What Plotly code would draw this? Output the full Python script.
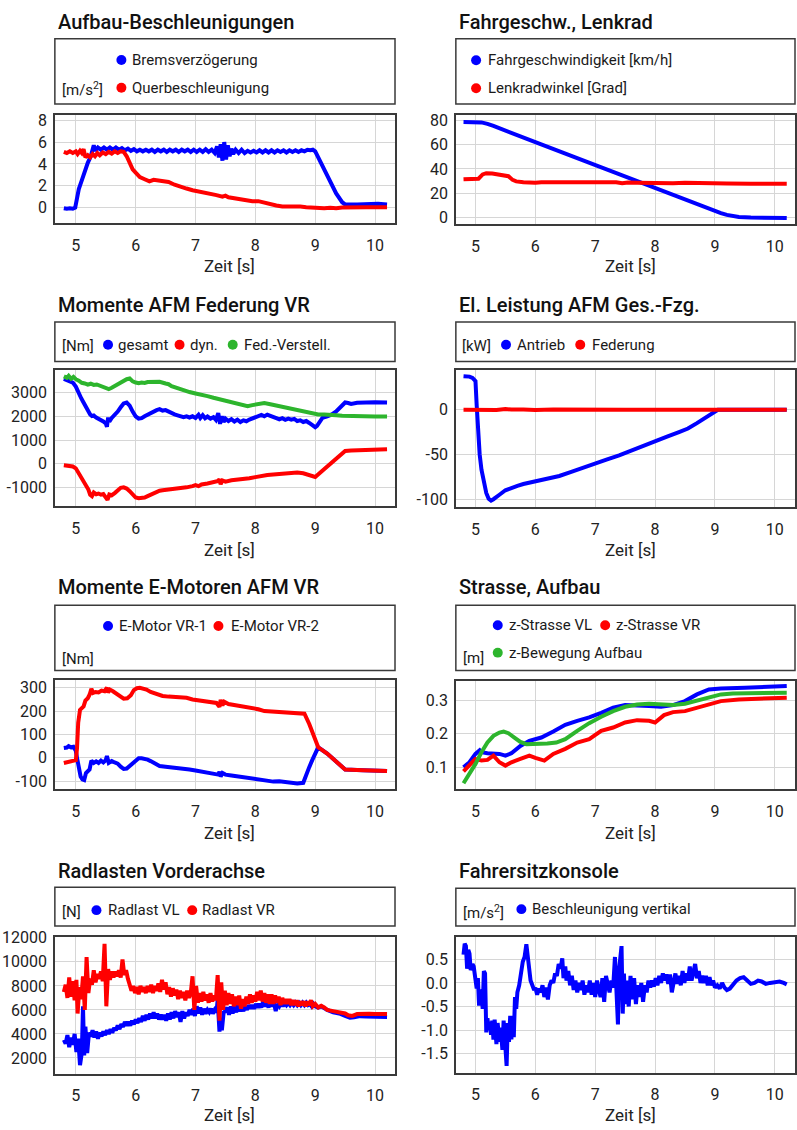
import plotly.graph_objects as go

W, H = 797, 1130
BLUE = "#0000ff"
RED = "#ff0000"
GREEN = "#2db52d"
FONT = "Roboto"
FRAME = "#3a3a3a"
GRID = "#d6d6d6"

# ---------------- Aufbau-Beschleunigungen ----------------
t_brems = [4.80, 4.85, 4.90, 4.95, 4.99, 5.02, 5.05, 5.10, 5.15, 5.20, 5.25, 5.28, 5.30, 5.33, 5.37,
           5.42, 5.47, 5.52, 5.57, 5.62, 5.67, 5.72, 5.77, 5.82, 5.87, 5.92, 5.97, 6.02, 6.07, 6.12,
           6.17, 6.22, 6.27, 6.32, 6.37, 6.42, 6.47, 6.52, 6.57, 6.62, 6.67, 6.72, 6.77, 6.82, 6.87,
           6.92, 6.97, 7.02, 7.07, 7.12, 7.17, 7.22, 7.27, 7.32, 7.36, 7.39, 7.42, 7.45, 7.48, 7.51,
           7.54, 7.57, 7.60, 7.63, 7.67, 7.72, 7.77, 7.82, 7.87, 7.92, 7.97, 8.02, 8.07, 8.12, 8.17,
           8.22, 8.27, 8.32, 8.37, 8.42, 8.47, 8.52, 8.57, 8.62, 8.67, 8.72, 8.77, 8.82, 8.87, 8.92,
           8.96, 9.00, 9.05, 9.15, 9.25, 9.35, 9.45, 9.50, 9.70, 9.90, 10.05, 10.20]
v_brems = [-0.05, -0.1, -0.05, -0.1, 0.0, 1.0, 1.7, 2.5, 3.4, 4.1, 4.7, 5.4, 5.7, 5.2, 5.5,
           5.3, 5.5, 5.3, 5.5, 5.3, 5.5, 5.3, 5.45, 5.25, 5.4, 5.2, 5.35, 5.15, 5.3, 5.15,
           5.3, 5.15, 5.3, 5.1, 5.3, 5.15, 5.3, 5.1, 5.3, 5.15, 5.3, 5.1, 5.3, 5.15, 5.3,
           5.1, 5.3, 5.1, 5.3, 5.1, 5.35, 5.1, 5.3, 5.0, 5.6, 4.6, 5.8, 4.3, 6.0, 4.4,
           5.7, 4.7, 5.4, 4.9, 5.3, 5.0, 5.3, 5.0, 5.2, 5.05, 5.2, 5.05, 5.25, 5.05, 5.25,
           5.05, 5.25, 5.05, 5.25, 5.1, 5.25, 5.05, 5.25, 5.1, 5.25, 5.1, 5.25, 5.15, 5.3, 5.25,
           5.3, 5.15, 4.6, 3.4, 2.3, 1.3, 0.5, 0.3, 0.3, 0.35, 0.35, 0.3]
t_quer = [4.80, 4.85, 4.90, 4.95, 5.00, 5.03, 5.07, 5.10, 5.13, 5.16, 5.20, 5.24, 5.28, 5.32, 5.36,
          5.40, 5.45, 5.50, 5.55, 5.60, 5.65, 5.70, 5.75, 5.80, 5.85, 5.90, 5.95, 6.00, 6.07, 6.15,
          6.23, 6.30, 6.38, 6.45, 6.55, 6.65, 6.75, 6.85, 6.95, 7.05, 7.15, 7.25, 7.35, 7.45, 7.50,
          7.55, 7.65, 7.75, 7.85, 7.95, 8.05, 8.15, 8.25, 8.35, 8.45, 8.55, 8.65, 8.75, 8.85, 8.95,
          9.05, 9.15, 9.25, 9.35, 9.45, 9.55, 9.70, 9.85, 10.0, 10.2]
v_quer = [5.1, 5.0, 5.15, 5.0, 5.15, 4.9, 5.2, 5.0, 5.35, 4.6, 4.8, 4.6, 4.9, 4.7, 5.0,
          4.8, 5.05, 4.9, 5.1, 4.95, 5.15, 5.0, 5.15, 5.1, 4.7, 4.1, 3.5, 3.2, 2.8, 2.6,
          2.4, 2.55, 2.5, 2.4, 2.35, 2.1, 1.9, 1.75, 1.6, 1.5, 1.35, 1.25, 1.15, 1.0, 1.1,
          0.95, 0.85, 0.75, 0.7, 0.6, 0.6, 0.45, 0.3, 0.2, 0.1, 0.12, 0.08, 0.1, 0.05, 0.0,
          -0.02, -0.05, 0.0, -0.05, 0.02, 0.05, 0.05, 0.05, 0.05, 0.05]

# ---------------- Fahrgeschw., Lenkrad ----------------
t_speed = [4.80, 5.00, 5.10, 5.20, 5.30, 6.00, 7.00, 8.00, 8.60, 8.90, 9.00, 9.10, 9.20, 9.30, 9.40, 9.60, 10.20]
v_speed = [78.5, 78.5, 78.2, 77.0, 75.3, 62.0, 43.0, 24.2, 13.0, 7.6, 5.6, 3.8, 2.3, 1.2, 0.5, 0.1, -0.3]
t_lenk = [4.80, 4.90, 5.00, 5.05, 5.12, 5.18, 5.28, 5.38, 5.48, 5.55, 5.62, 5.68, 5.80, 5.92, 6.00,
          6.10, 6.30, 6.50, 6.70, 6.90, 7.05, 7.20, 7.35, 7.45, 7.55, 7.70, 7.90, 8.10, 8.30, 8.50,
          8.70, 8.90, 9.20, 9.60, 10.20]
v_lenk = [31.5, 31.5, 31.7, 32.0, 35.5, 36.5, 36.2, 35.3, 34.8, 34.0, 31.0, 29.8, 29.0, 28.3, 28.6,
          29.0, 29.1, 29.3, 29.1, 29.2, 28.8, 29.2, 29.0, 28.2, 28.8, 28.6, 28.3, 27.8, 28.3, 28.6,
          28.3, 28.1, 28.0, 27.9, 27.9]

# ---------------- Momente AFM Federung VR ----------------
t_ges = [4.80, 4.85, 4.90, 4.95, 5.00, 5.03, 5.06, 5.09, 5.12, 5.15, 5.18, 5.21, 5.24, 5.27, 5.30,
         5.34, 5.38, 5.42, 5.46, 5.50, 5.52, 5.54, 5.56, 5.60, 5.65, 5.70, 5.75, 5.80, 5.85, 5.90,
         5.95, 6.00, 6.05, 6.10, 6.15, 6.20, 6.25, 6.30, 6.35, 6.40, 6.45, 6.50, 6.55, 6.60, 6.65,
         6.70, 6.75, 6.80, 6.85, 6.90, 6.95, 7.00, 7.05, 7.08, 7.12, 7.16, 7.20, 7.25, 7.30, 7.34,
         7.38, 7.41, 7.44, 7.47, 7.50, 7.55, 7.60, 7.65, 7.70, 7.75, 7.80, 7.85, 7.90, 7.95, 8.00,
         8.05, 8.10, 8.15, 8.20, 8.25, 8.30, 8.35, 8.40, 8.45, 8.50, 8.55, 8.60, 8.65, 8.70, 8.75,
         8.80, 8.85, 8.90, 8.95, 9.00, 9.03, 9.07, 9.12, 9.20, 9.27, 9.35, 9.42, 9.50, 9.55, 9.60,
         9.70, 9.80, 9.90, 10.0, 10.2]
v_ges = [3570, 3520, 3480, 3420, 3250, 3050, 2900, 2760, 2620, 2480, 2350, 2200, 2080, 2010, 2030,
         1950, 1900, 1860, 1780, 1700, 1560, 1950, 1780, 1930, 2040, 2200, 2380, 2540, 2580, 2450,
         2200, 2000, 1900, 1920, 2000, 2070, 2130, 2190, 2260, 2300, 2240, 2260, 2190, 2120, 2080,
         2040, 2000, 1960, 2000, 1950, 2000, 1930, 2060, 1930, 2050, 1920, 1990, 1900, 1960, 1850,
         2130, 1680, 2000, 1760, 1900, 1800, 1880, 1780, 1860, 1760, 1830, 1790, 1860, 1900, 1960,
         2020, 2060, 2000, 2070, 2020, 1950, 1920, 1870, 1920, 1850, 1900, 1860, 1890, 1800, 1830,
         1760, 1800, 1720, 1650, 1540, 1600, 1720, 1930, 2000, 2070, 2200, 2380, 2580, 2560, 2520,
         2570, 2590, 2580, 2590, 2580]
t_dyn = [4.80, 4.85, 4.90, 4.95, 5.00, 5.03, 5.06, 5.10, 5.14, 5.18, 5.21, 5.24, 5.27, 5.30, 5.34,
         5.38, 5.42, 5.46, 5.50, 5.53, 5.56, 5.60, 5.65, 5.70, 5.75, 5.80, 5.85, 5.90, 5.95, 6.00,
         6.05, 6.10, 6.15, 6.20, 6.25, 6.30, 6.35, 6.40, 6.45, 6.55, 6.65, 6.75, 6.85, 6.95, 7.00,
         7.05, 7.10, 7.20, 7.30, 7.38, 7.40, 7.42, 7.45, 7.50, 7.60, 7.70, 7.80, 7.90, 8.00, 8.10,
         8.20, 8.30, 8.40, 8.50, 8.60, 8.70, 8.80, 8.90, 9.00, 9.10, 9.20, 9.30, 9.40, 9.50, 9.60,
         9.80, 10.0, 10.2]
v_dyn = [-60, -80, -100, -110, -190, -320, -450, -600, -760, -940, -1080, -1300, -1360, -1210, -1280,
         -1250, -1300, -1270, -1380, -1520, -1290, -1320, -1230, -1130, -1010, -990, -1040, -1150, -1300, -1420,
         -1450, -1450, -1420, -1360, -1300, -1250, -1180, -1130, -1110, -1090, -1060, -1030, -990, -940, -900,
         -940, -870, -830, -780, -720, -650, -860, -700, -750, -690, -670, -640, -610, -560, -500,
         -470, -450, -430, -400, -380, -370, -400, -460, -550, -330, -120, 100, 320, 540, 560,
         590, 600, 610]
t_fed = [4.80, 4.85, 4.88, 4.92, 4.96, 5.00, 5.05, 5.10, 5.15, 5.20, 5.25, 5.30, 5.35, 5.40, 5.45,
         5.50, 5.55, 5.60, 5.65, 5.70, 5.75, 5.80, 5.85, 5.90, 5.95, 6.00, 6.05, 6.10, 6.15, 6.20,
         6.30, 6.40, 6.50, 6.55, 6.60, 6.70, 6.80, 6.90, 7.00, 7.10, 7.20, 7.30, 7.40, 7.50, 7.60,
         7.70, 7.80, 7.87, 7.95, 8.05, 8.15, 8.25, 8.35, 8.45, 8.55, 8.65, 8.75, 8.85, 8.95, 9.05,
         9.15, 9.25, 9.35, 9.45, 9.55, 9.65, 9.80, 10.0, 10.2]
v_fed = [3680, 3620, 3700, 3580, 3660, 3560, 3500, 3410, 3380, 3330, 3370, 3320, 3340, 3290, 3240,
         3180, 3140, 3200, 3280, 3360, 3440, 3510, 3560, 3590, 3470, 3420, 3390, 3420, 3400, 3440,
         3430, 3450, 3380, 3350, 3270, 3180, 3090, 3020, 2960, 2920, 2850, 2780, 2720, 2660, 2600,
         2540, 2470, 2420, 2470, 2500, 2560, 2510, 2460, 2390, 2320, 2280, 2230, 2180, 2120, 2080,
         2080, 2040, 2040, 2020, 2010, 1990, 2010, 1990, 1990]

# ---------------- El. Leistung AFM Ges.-Fzg. ----------------
t_antrieb = [4.80, 4.90, 4.95, 5.00, 5.02, 5.04, 5.07, 5.10, 5.14, 5.18, 5.22, 5.26, 5.30, 5.35, 5.40,
             5.50, 5.60, 5.70, 5.80, 5.90, 6.00, 6.20, 6.40, 6.60, 6.80, 7.00, 7.20, 7.40, 7.60, 7.80,
             8.00, 8.20, 8.40, 8.55, 8.70, 8.85, 9.00, 9.05, 10.2]
v_antrieb = [37.5, 37.0, 35.5, 32.0, 5.0, -25.0, -50.0, -67.0, -82.0, -93.0, -99.5, -101.5, -100.0, -98.0, -95.0,
             -90.0, -87.0, -85.0, -83.0, -81.5, -80.5, -77.5, -74.0, -69.5, -64.5, -60.0, -55.5, -51.0, -45.5, -40.0,
             -35.0, -30.0, -25.0, -21.0, -15.0, -9.0, -3.0, 0.0, 0.0]
t_federung = [4.80, 5.00, 5.20, 5.35, 5.50, 5.60, 5.80, 6.00, 6.30, 6.60, 7.00, 7.50, 8.00, 8.50, 9.00, 10.2]
v_federung = [0.0, -0.3, -0.8, -0.3, 0.8, 0.2, 0.3, -0.2, 0.2, -0.1, 0.1, 0.0, 0.1, 0.0, 0.0, 0.0]

# ---------------- Momente E-Motoren AFM VR ----------------
t_em1 = [4.80, 4.85, 4.88, 4.92, 4.96, 5.00, 5.02, 5.05, 5.08, 5.11, 5.14, 5.17, 5.20, 5.23, 5.26,
         5.30, 5.34, 5.38, 5.42, 5.46, 5.50, 5.52, 5.55, 5.60, 5.65, 5.70, 5.75, 5.80, 5.85, 5.90,
         5.95, 6.00, 6.05, 6.10, 6.15, 6.20, 6.25, 6.30, 6.35, 6.40, 6.50, 6.60, 6.70, 6.80, 6.90,
         7.00, 7.10, 7.20, 7.30, 7.38, 7.40, 7.42, 7.45, 7.50, 7.60, 7.70, 7.80, 7.90, 8.00, 8.10,
         8.20, 8.30, 8.40, 8.50, 8.60, 8.70, 8.80, 8.85, 8.90, 8.95, 9.00, 9.05, 9.20, 9.35, 9.50,
         9.80, 10.2]
v_em1 = [42, 44, 50, 45, 47, 30, 0, -50, -80, -92, -95, -65, -58, -50, -12,
         -22, -15, -22, -12, -20, -10, 8, -22, -14, -20, -25, -38, -48, -46, -35,
         -22, -8, -2, -2, -4, -8, -14, -22, -28, -35, -38, -40, -42, -44, -50,
         -54, -58, -62, -66, -72, -60, -80, -65, -72, -76, -80, -84, -88, -92, -97,
         -101, -102, -100, -104, -105, -110, -107, -70, -40, -10, 18, 45, 18, -15, -50,
         -53, -57]
t_em2 = [4.80, 4.85, 4.90, 4.95, 5.00, 5.02, 5.04, 5.07, 5.10, 5.13, 5.16, 5.20, 5.23, 5.26, 5.29,
         5.33, 5.38, 5.43, 5.48, 5.52, 5.54, 5.57, 5.62, 5.68, 5.74, 5.80, 5.86, 5.92, 5.97, 6.02,
         6.07, 6.12, 6.18, 6.25, 6.32, 6.40, 6.45, 6.55, 6.65, 6.75, 6.85, 6.95, 7.05, 7.15, 7.25,
         7.35, 7.40, 7.42, 7.45, 7.48, 7.55, 7.65, 7.75, 7.85, 7.95, 8.05, 8.15, 8.25, 8.35, 8.45,
         8.55, 8.65, 8.75, 8.82, 8.90, 9.00, 9.05, 9.20, 9.35, 9.50, 9.80, 10.2]
v_em2 = [-22, -20, -18, -15, -10, 40, 150, 205, 215, 220, 245, 255, 270, 295, 278,
         282, 280, 288, 285, 300, 280, 292, 285, 275, 262, 253, 255, 268, 290, 298,
         300, 298, 292, 282, 275, 268, 265, 262, 261, 258, 257, 250, 247, 242, 240,
         235, 218, 248, 225, 240, 230, 226, 222, 220, 213, 208, 200, 198, 196, 195,
         194, 191, 190, 189, 145, 80, 45, 18, -15, -50, -53, -57]

# ---------------- Strasse, Aufbau ----------------
t_svl = [4.80, 4.90, 5.00, 5.07, 5.10, 5.20, 5.40, 5.50, 5.60, 5.75, 5.90, 6.10, 6.30, 6.50, 6.70,
         6.90, 7.10, 7.30, 7.50, 7.70, 7.90, 8.10, 8.30, 8.50, 8.70, 8.90, 9.10, 9.50, 10.2]
v_svl = [0.100, 0.115, 0.140, 0.151, 0.145, 0.142, 0.140, 0.135, 0.142, 0.164, 0.179, 0.189, 0.207, 0.227, 0.239,
         0.249, 0.263, 0.278, 0.286, 0.286, 0.283, 0.281, 0.286, 0.298, 0.318, 0.333, 0.336, 0.338, 0.343]
t_svr = [4.80, 4.90, 5.00, 5.10, 5.20, 5.30, 5.40, 5.50, 5.60, 5.75, 5.90, 6.00, 6.15, 6.30, 6.50,
         6.70, 6.90, 7.10, 7.30, 7.50, 7.70, 7.90, 8.00, 8.15, 8.30, 8.50, 8.70, 8.90, 9.10, 9.40,
         9.80, 10.2]
v_svr = [0.088, 0.105, 0.125, 0.120, 0.122, 0.135, 0.115, 0.105, 0.115, 0.125, 0.135, 0.128, 0.120, 0.140, 0.155,
         0.174, 0.184, 0.209, 0.219, 0.234, 0.241, 0.239, 0.234, 0.256, 0.265, 0.268, 0.278, 0.290, 0.298, 0.303,
         0.306, 0.308]
t_zauf = [4.80, 4.90, 5.00, 5.10, 5.20, 5.30, 5.40, 5.47, 5.55, 5.65, 5.75, 5.85, 6.00, 6.20, 6.35,
          6.50, 6.70, 6.90, 7.10, 7.30, 7.50, 7.70, 7.90, 8.10, 8.30, 8.50, 8.70, 8.90, 9.10, 9.30,
          9.60, 10.2]
v_zauf = [0.052, 0.080, 0.110, 0.145, 0.174, 0.194, 0.204, 0.207, 0.202, 0.189, 0.176, 0.169, 0.169, 0.171, 0.174,
          0.184, 0.209, 0.232, 0.251, 0.268, 0.281, 0.288, 0.290, 0.288, 0.286, 0.290, 0.300, 0.310, 0.318, 0.321,
          0.321, 0.323]

# ---------------- Radlasten Vorderachse ----------------
t_rvr = [4.80, 4.83, 4.86, 4.89, 4.92, 4.95, 4.98, 5.01, 5.03, 5.06, 5.09, 5.12, 5.15, 5.18, 5.21,
         5.24, 5.27, 5.30, 5.33, 5.36, 5.39, 5.42, 5.45, 5.48, 5.51, 5.54, 5.57, 5.60, 5.63, 5.66,
         5.69, 5.72, 5.75, 5.78, 5.81, 5.84, 5.87, 5.90, 5.93, 5.96, 5.99, 6.02, 6.05, 6.08, 6.11,
         6.14, 6.17, 6.20, 6.23, 6.26, 6.29, 6.32, 6.35, 6.38, 6.41, 6.44, 6.47, 6.50, 6.53, 6.56,
         6.59, 6.62, 6.65, 6.68, 6.71, 6.74, 6.77, 6.80, 6.83, 6.86, 6.89, 6.92, 6.95, 6.98, 7.01,
         7.04, 7.07, 7.10, 7.13, 7.16, 7.19, 7.22, 7.25, 7.28, 7.31, 7.34, 7.37, 7.40, 7.43, 7.46,
         7.49, 7.52, 7.55, 7.58, 7.61, 7.64, 7.67, 7.70, 7.73, 7.76, 7.79, 7.82, 7.85, 7.88, 7.91,
         7.94, 7.97, 8.00, 8.03, 8.06, 8.09, 8.12, 8.15, 8.18, 8.21, 8.24, 8.27, 8.30, 8.33, 8.36,
         8.39, 8.42, 8.45, 8.48, 8.51, 8.54, 8.57, 8.60, 8.63, 8.66, 8.69, 8.72, 8.75, 8.78, 8.81,
         8.84, 8.87, 8.90, 8.93, 8.96, 9.00, 9.05, 9.10, 9.15, 9.20, 9.30, 9.40, 9.50, 9.55, 9.62,
         9.70, 9.80, 9.90, 10.0, 10.2]
v_rvr = [7500, 8100, 7000, 8700, 7100, 8400, 6800, 8500, 5700, 7900, 6900, 8800, 6000, 10400, 7400,
         8600, 8100, 9300, 8300, 9000, 8600, 9200, 8400, 11500, 6300, 9400, 8500, 9200, 8700, 9200,
         8800, 9300, 8700, 10200, 8900, 9300, 8600, 8100, 7600, 8000, 7400, 7900, 7300, 8000, 7500,
         7900, 7400, 8000, 7500, 8100, 7400, 8000, 7600, 8200, 7500, 8500, 7700, 8300, 7300, 7900,
         7100, 7800, 7200, 7700, 6900, 7600, 7000, 7500, 6800, 7600, 7000, 7400, 8800, 6000, 8000,
         6600, 7400, 6700, 7500, 6800, 7300, 6600, 7400, 6700, 7200, 6800, 8900, 5100, 8300, 6000,
         7600, 6400, 7400, 6500, 7300, 6300, 7100, 6400, 7200, 6100, 6900, 6300, 7100, 6500, 7300,
         6600, 7200, 6700, 7500, 6800, 7600, 6700, 7400, 6600, 7300, 6500, 7300, 6500, 7200, 6600,
         7100, 6400, 7000, 6500, 6900, 6500, 6900, 6400, 6800, 6400, 6800, 6300, 6700, 6400, 6700,
         6300, 6700, 6400, 6800, 6300, 6500, 6200, 6350, 6200, 6000, 5900, 5800, 5700, 5550, 5500,
         5650, 5700, 5680, 5660, 5650]
t_rvl = [4.80, 4.83, 4.86, 4.89, 4.92, 4.95, 4.98, 5.01, 5.04, 5.07, 5.10, 5.12, 5.14, 5.16, 5.19,
         5.22, 5.25, 5.28, 5.31, 5.34, 5.37, 5.40, 5.43, 5.46, 5.49, 5.52, 5.55, 5.58, 5.61, 5.64,
         5.67, 5.70, 5.73, 5.76, 5.79, 5.82, 5.85, 5.88, 5.91, 5.94, 5.97, 6.00, 6.03, 6.06, 6.09,
         6.12, 6.15, 6.18, 6.21, 6.24, 6.27, 6.30, 6.33, 6.36, 6.39, 6.42, 6.45, 6.48, 6.51, 6.54,
         6.57, 6.60, 6.63, 6.66, 6.69, 6.72, 6.75, 6.78, 6.81, 6.84, 6.87, 6.90, 6.93, 6.96, 6.99,
         7.02, 7.05, 7.08, 7.11, 7.14, 7.17, 7.20, 7.23, 7.26, 7.29, 7.32, 7.35, 7.37, 7.40, 7.42,
         7.44, 7.47, 7.50, 7.53, 7.56, 7.59, 7.62, 7.65, 7.68, 7.71, 7.74, 7.77, 7.80, 7.83, 7.86,
         7.89, 7.92, 7.95, 7.98, 8.01, 8.04, 8.07, 8.10, 8.13, 8.16, 8.19, 8.22, 8.25, 8.28, 8.31,
         8.34, 8.37, 8.40, 8.43, 8.46, 8.49, 8.52, 8.55, 8.58, 8.61, 8.64, 8.67, 8.70, 8.73, 8.76,
         8.79, 8.82, 8.85, 8.88, 8.91, 8.94, 8.97, 9.00, 9.05, 9.10, 9.15, 9.20, 9.30, 9.40, 9.50,
         9.58, 9.65, 9.75, 9.85, 10.0, 10.2]
v_rvl = [3500, 3200, 3900, 2900, 3700, 3100, 4000, 2500, 3600, 1400, 2400, 6300, 2200, 4600, 2400,
         4100, 3800, 4300, 3700, 4200, 3600, 4100, 3800, 4200, 3900, 4300, 4000, 4400, 4100, 4500,
         4300, 4700, 4400, 4800, 4600, 5000, 4700, 5000, 4700, 5100, 4800, 5200, 4900, 5300, 5000,
         5500, 5100, 5600, 5200, 5700, 5300, 5800, 5300, 5700, 5200, 5600, 5200, 5600, 5100, 5700,
         5200, 5800, 5300, 5900, 5400, 5800, 5000, 5900, 5300, 5800, 5500, 6000, 5600, 6100, 5500,
         6300, 5700, 6200, 5600, 6100, 5700, 6000, 5800, 6100, 5700, 6000, 5800, 6800, 4200, 5000,
         4300, 5800, 5900, 6200, 5600, 6300, 5700, 6300, 5800, 6400, 5900, 6200, 5900, 6300, 6000,
         6400, 6100, 6400, 6100, 6500, 6200, 6500, 6200, 6700, 6300, 6600, 6200, 6700, 6300, 6600,
         5900, 6500, 6300, 6600, 6300, 6600, 6400, 6600, 6400, 6600, 6400, 6600, 6400, 6600, 6400,
         6600, 6400, 6600, 6400, 6500, 6300, 6500, 6300, 6200, 6300, 6100, 6000, 5800, 5700, 5500,
         5350, 5380, 5480, 5450, 5420, 5400]

# ---------------- Fahrersitzkonsole ----------------
t_sitz = [4.80, 4.82, 4.84, 4.86, 4.88, 4.90, 4.92, 4.95, 4.97, 5.00, 5.02, 5.04, 5.06, 5.08, 5.10,
          5.12, 5.14, 5.16, 5.18, 5.20, 5.22, 5.24, 5.26, 5.28, 5.30, 5.32, 5.35, 5.37, 5.40, 5.42,
          5.45, 5.47, 5.50, 5.52, 5.54, 5.56, 5.58, 5.60, 5.62, 5.64, 5.66, 5.68, 5.70, 5.73, 5.76,
          5.79, 5.82, 5.85, 5.87, 5.90, 5.92, 5.95, 5.98, 6.00, 6.03, 6.06, 6.09, 6.12, 6.15, 6.18,
          6.21, 6.24, 6.27, 6.30, 6.33, 6.36, 6.39, 6.42, 6.45, 6.47, 6.50, 6.52, 6.55, 6.58, 6.61,
          6.64, 6.67, 6.70, 6.73, 6.76, 6.79, 6.82, 6.85, 6.88, 6.91, 6.94, 6.97, 7.00, 7.03, 7.06,
          7.09, 7.12, 7.15, 7.18, 7.21, 7.24, 7.27, 7.30, 7.33, 7.36, 7.38, 7.40, 7.42, 7.44, 7.46,
          7.48, 7.50, 7.53, 7.56, 7.59, 7.62, 7.65, 7.68, 7.71, 7.74, 7.77, 7.80, 7.83, 7.86, 7.89,
          7.92, 7.95, 7.98, 8.01, 8.04, 8.07, 8.10, 8.13, 8.16, 8.19, 8.22, 8.25, 8.28, 8.31, 8.34,
          8.37, 8.40, 8.43, 8.46, 8.49, 8.52, 8.55, 8.58, 8.61, 8.64, 8.67, 8.70, 8.73, 8.76, 8.79,
          8.82, 8.85, 8.88, 8.91, 8.94, 8.97, 9.00, 9.04, 9.08, 9.12, 9.16, 9.20, 9.25, 9.30, 9.36,
          9.42, 9.48, 9.54, 9.60, 9.66, 9.72, 9.78, 9.85, 9.92, 10.0, 10.08, 10.15, 10.2]
v_sitz = [0.60, 0.83, 0.78, 0.30, 0.70, 0.62, 0.27, 0.40, 0.35, 0.12, -0.12, 0.10, -0.48, -0.20, -0.15,
          -0.55, 0.25, 0.20, -1.05, -0.75, -1.00, -0.82, -1.10, -0.80, -1.20, -0.78, -1.30, -0.85, -1.25, -0.95,
          -1.42, -0.80, -1.65, -1.76, -0.85, -1.25, -0.70, -1.20, -0.70, -1.15, -0.30, -0.55, -0.20, -0.05, 0.20,
          0.45, 0.55, 0.82, 0.60, 0.30, 0.05, -0.05, -0.15, -0.10, -0.25, -0.12, -0.20, -0.05, -0.30, -0.10,
          -0.35, -0.05, 0.05, 0.00, 0.20, 0.15, 0.40, 0.30, 0.52, 0.10, 0.35, 0.05, 0.25, -0.05, 0.15,
          -0.15, 0.05, -0.20, 0.00, -0.15, 0.05, -0.25, -0.05, -0.20, 0.05, -0.25, 0.00, -0.30, 0.05, -0.15,
          -0.30, 0.10, -0.40, 0.15, -0.05, -0.20, 0.05, -0.10, 0.55, -0.10, -0.88, 0.30, 0.70, 0.78, -0.65,
          0.20, -0.45, 0.05, -0.50, 0.15, -0.35, 0.10, -0.45, -0.05, -0.30, 0.00, -0.40, -0.05, -0.20, 0.05,
          -0.10, 0.05, -0.08, 0.10, -0.05, 0.15, 0.00, 0.20, 0.05, 0.18, -0.02, 0.18, -0.20, 0.05, 0.20,
          -0.02, 0.15, -0.05, 0.25, 0.00, 0.20, 0.05, 0.35, 0.05, 0.20, 0.40, 0.10, 0.25, 0.00, 0.15,
          0.00, 0.15, -0.05, 0.12, -0.05, 0.05, -0.10, -0.05, -0.12, 0.00, -0.10, -0.15, -0.12, -0.05, 0.05,
          0.10, 0.12, 0.05, -0.02, 0.00, 0.05, 0.03, -0.02, 0.00, 0.02, 0.03, 0.00, -0.03]

# ---------------- axis ticks ----------------
x_ticks = [5, 6, 7, 8, 9, 10]
y_ticks_1 = [0, 2, 4, 6, 8]
y_ticks_2 = [0, 20, 40, 60, 80]
y_ticks_3 = [-1000, 0, 1000, 2000, 3000]
y_labels_3 = ["-1000", "0", "1000", "2000", "3000"]
y_ticks_4 = [-100, -50, 0]
y_labels_4 = ["-100", "-50", "0"]
y_ticks_5 = [-100, 0, 100, 200, 300]
y_labels_5 = ["-100", "0", "100", "200", "300"]
y_ticks_6 = [0.1, 0.2, 0.3]
y_labels_6 = ["0.1", "0.2", "0.3"]
y_ticks_7 = [2000, 4000, 6000, 8000, 10000, 12000]
y_labels_7 = ["2000", "4000", "6000", "8000", "10000", "12000"]
y_ticks_8 = [-1.5, -1.0, -0.5, 0.0, 0.5]
y_labels_8 = ["-1.5", "-1.0", "-0.5", "0.0", "0.5"]
x_title = "Zeit [s]"


def fx(x):
    return x / W


def fy(y):
    return 1 - y / H


# panel layout in pixels: plot box, legend box, title / x-title positions, axis ranges
LEFT = (55, 396)
RIGHT = (457, 797)
panels = [
    dict(box=LEFT, yb=(108, 217), leg=(31, 97), title="Aufbau-Beschleunigungen", ty=14, zy=261,
         xr=[4.65, 10.333], yr=[-1.39, 8.48], yt=y_ticks_1, yl=[str(v) for v in y_ticks_1]),
    dict(box=RIGHT, yb=(108, 218), leg=(31, 97), title="Fahrgeschw., Lenkrad", ty=14, zy=261,
         xr=[4.672, 10.338], yr=[-5.1, 84.3], yt=y_ticks_2, yl=[str(v) for v in y_ticks_2]),
    dict(box=LEFT, yb=(366, 503), leg=(317, 357), title="Momente AFM Federung VR", ty=300, zy=547,
         xr=[4.65, 10.333], yr=[-1779, 3929], yt=y_ticks_3, yl=y_labels_3),
    dict(box=RIGHT, yb=(366, 504), leg=(317, 357), title="El. Leistung AFM Ges.-Fzg.", ty=300, zy=547,
         xr=[4.672, 10.338], yr=[-108.8, 43.9], yt=y_ticks_4, yl=y_labels_4),
    dict(box=LEFT, yb=(679, 789), leg=(603, 669), title="Momente E-Motoren AFM VR", ty=585, zy=833,
         xr=[4.65, 10.333], yr=[-135, 331.5], yt=y_ticks_5, yl=y_labels_5),
    dict(box=RIGHT, yb=(680, 789), leg=(603, 669), title="Strasse, Aufbau", ty=585, zy=833,
         xr=[4.672, 10.338], yr=[0.034, 0.357], yt=y_ticks_6, yl=y_labels_6),
    dict(box=LEFT, yb=(938, 1076), leg=(888, 927), title="Radlasten Vorderachse", ty=871, zy=1118,
         xr=[4.65, 10.333], yr=[702, 12083], yt=y_ticks_7, yl=y_labels_7),
    dict(box=RIGHT, yb=(938, 1075), leg=(889, 927), title="Fahrersitzkonsole", ty=871, zy=1118,
         xr=[4.672, 10.338], yr=[-1.9, 0.976], yt=y_ticks_8, yl=y_labels_8),
]

series = [
    (1, t_brems, v_brems, BLUE), (1, t_quer, v_quer, RED),
    (2, t_speed, v_speed, BLUE), (2, t_lenk, v_lenk, RED),
    (3, t_ges, v_ges, BLUE), (3, t_dyn, v_dyn, RED), (3, t_fed, v_fed, GREEN),
    (4, t_antrieb, v_antrieb, BLUE), (4, t_federung, v_federung, RED),
    (5, t_em1, v_em1, BLUE), (5, t_em2, v_em2, RED),
    (6, t_svl, v_svl, BLUE), (6, t_svr, v_svr, RED), (6, t_zauf, v_zauf, GREEN),
    (7, t_rvl, v_rvl, BLUE), (7, t_rvr, v_rvr, RED),
    (8, t_sitz, v_sitz, BLUE),
]

# legend entries: (panel, kind, x px, y px, text/color)
legend_items = [
    (1, "unit", 60, 82, "[m/s<sup>2</sup>]"),
    (1, "dot", 121.7, 52.5, BLUE), (1, "text", 130, 52.5, "Bremsverzögerung"),
    (1, "dot", 121.7, 80.5, RED), (1, "text", 130, 80.5, "Querbeschleunigung"),
    (2, "dot", 477.3, 52.7, BLUE), (2, "text", 487.3, 52.7, "Fahrgeschwindigkeit [km/h]"),
    (2, "dot", 477.3, 81, RED), (2, "text", 487.3, 81, "Lenkradwinkel [Grad]"),
    (3, "unit", 60, 341, "[Nm]"),
    (3, "dot", 108.3, 340, BLUE), (3, "text", 116.7, 340, "gesamt"),
    (3, "dot", 180, 340, RED), (3, "text", 188.7, 340, "dyn."),
    (3, "dot", 233.3, 340, GREEN), (3, "text", 242.7, 340, "Fed.-Verstell."),
    (4, "unit", 461, 341, "[kW]"),
    (4, "dot", 507.3, 340, BLUE), (4, "text", 516, 340, "Antrieb"),
    (4, "dot", 581.7, 340, RED), (4, "text", 591, 340, "Federung"),
    (5, "dot", 108.3, 624, BLUE), (5, "text", 117.3, 624, "E-Motor VR-1"),
    (5, "dot", 219, 624, RED), (5, "text", 229.3, 624, "E-Motor VR-2"),
    (5, "unit", 60, 657, "[Nm]"),
    (6, "dot", 499, 623.3, BLUE), (6, "text", 508.3, 623.3, "z-Strasse VL"),
    (6, "dot", 606.7, 623.3, RED), (6, "text", 616, 623.3, "z-Strasse VR"),
    (6, "dot", 499, 651, GREEN), (6, "text", 508.3, 651, "z-Bewegung Aufbau"),
    (6, "unit", 461.7, 656.7, "[m]"),
    (7, "unit", 60, 913, "[N]"),
    (7, "dot", 96.7, 911, BLUE), (7, "text", 106, 911, "Radlast VL"),
    (7, "dot", 192.7, 911, RED), (7, "text", 200.7, 911, "Radlast VR"),
    (8, "unit", 461.7, 913, "[m/s<sup>2</sup>]"),
    (8, "dot", 522.7, 910, BLUE), (8, "text", 531.7, 910, "Beschleunigung vertikal"),
]

fig = go.Figure()

for idx, t, v, col in series:
    sfx = "" if idx == 1 else str(idx)
    fig.add_trace(go.Scatter(x=t, y=v, mode="lines", line=dict(color=col, width=4),
                             xaxis="x" + sfx, yaxis="y" + sfx, showlegend=False,
                             hoverinfo="skip"))

layout = dict(
    width=W, height=H, margin=dict(l=0, r=0, t=0, b=0),
    paper_bgcolor="white", plot_bgcolor="white",
    font=dict(family=FONT, size=14, color="#1a1a1a"),
    shapes=[], annotations=[], showlegend=False,
)

for i, p in enumerate(panels, start=1):
    sfx = "" if i == 1 else str(i)
    x0, x1 = p["box"]
    y0, y1 = p["yb"]
    axis_common = dict(showline=True, mirror=True, linecolor=FRAME, linewidth=1.5,
                       showgrid=True, gridcolor=GRID, gridwidth=1, zeroline=False,
                       ticks="", tickfont=dict(family=FONT, size=16, color="#222"),
                       fixedrange=True)
    layout["xaxis" + sfx] = dict(
        axis_common, domain=[fx(x0), fx(x1)], range=p["xr"], tickvals=x_ticks,
        anchor="y" + sfx, ticklabelstandoff=7,
    )
    layout["yaxis" + sfx] = dict(
        axis_common, domain=[fy(y1), fy(y0)], range=p["yr"], tickvals=p["yt"],
        ticktext=p["yl"], anchor="x" + sfx, ticklabelstandoff=3,
    )
    # legend frame
    ly0, ly1 = p["leg"]
    layout["shapes"].append(dict(type="rect", xref="paper", yref="paper",
                                 x0=fx(x0), x1=fx(x1), y0=fy(ly1), y1=fy(ly0),
                                 line=dict(color=FRAME, width=1.5), fillcolor="white", layer="below"))
    # panel title
    layout["annotations"].append(dict(text=p["title"], xref="paper", yref="paper",
                                      x=fx(x0 + 1.5), y=fy(p["ty"]), xanchor="left", yanchor="middle",
                                      showarrow=False,
                                      font=dict(family=FONT, size=20, color="#111", weight=500)))
    # x axis title
    layout["annotations"].append(dict(text=x_title, xref="paper", yref="paper",
                                      x=fx((x0 + x1) / 2 + 5), y=fy(p["zy"]), xanchor="center",
                                      yanchor="middle", showarrow=False,
                                      font=dict(family=FONT, size=17, color="#222")))

for idx, kind, x, y, val in legend_items:
    if kind == "dot":
        r = 5
        layout["shapes"].append(dict(type="circle", xref="paper", yref="paper",
                                     x0=fx(x - r), x1=fx(x + r), y0=fy(y + r), y1=fy(y - r),
                                     fillcolor=val, line=dict(width=0)))
    else:
        layout["annotations"].append(dict(text=val, xref="paper", yref="paper",
                                          x=fx(x), y=fy(y), xanchor="left", yanchor="middle",
                                          showarrow=False,
                                          font=dict(family=FONT, size=15, color="#1a1a1a")))

fig.update_layout(**layout)
fig.write_html("out.html")
